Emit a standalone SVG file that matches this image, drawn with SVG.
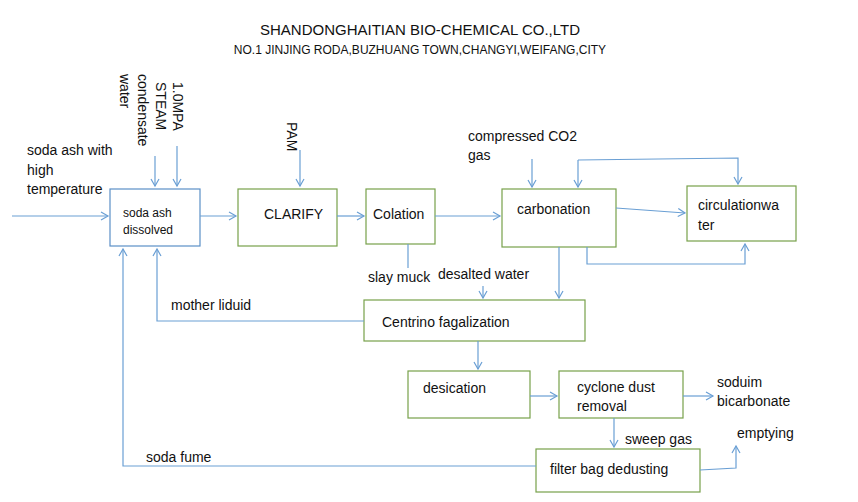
<svg xmlns="http://www.w3.org/2000/svg" width="858" height="502" viewBox="0 0 858 502">
<style>
text{font-family:"Liberation Sans",Arial,sans-serif;fill:#111}
.b{fill:#fff;stroke:#77a14a;stroke-width:1.2}
.bb{fill:#fff;stroke:#5b8fc7;stroke-width:1.2}
.c{fill:none;stroke:#6a9fd4;stroke-width:1.2}
</style>
<defs><marker id="a" markerWidth="10" markerHeight="10" refX="8" refY="5" orient="auto" markerUnits="userSpaceOnUse"><path d="M1,1 L8,5 L1,9" fill="none" stroke="#6a9fd4" stroke-width="1.2"/></marker></defs>
<rect width="858" height="502" fill="#fff"/>
<text x="420" y="35" font-size="15" text-anchor="middle">SHANDONGHAITIAN BIO-CHEMICAL CO.,LTD</text>
<text x="420" y="54" font-size="12" text-anchor="middle">NO.1 JINJING RODA,BUZHUANG TOWN,CHANGYI,WEIFANG,CITY</text>
<g font-size="14">
<text transform="translate(120,74) rotate(90)">water</text>
<text transform="translate(138,74) rotate(90)">condensate</text>
<text transform="translate(156,82) rotate(90)">STEAM</text>
<text transform="translate(173,82) rotate(90)">1.0MPA</text>
<text transform="translate(287,122) rotate(90)">PAM</text>
<text x="27" y="155">soda ash with</text>
<text x="27" y="175">high</text>
<text x="27" y="194">temperature</text>
<text x="468" y="141">compressed CO2</text>
<text x="468" y="160">gas</text>
<text x="368" y="282">slay muck</text>
<text x="438" y="279">desalted water</text>
<text x="171" y="310">mother liduid</text>
<text x="717" y="387">soduim</text>
<text x="717" y="406">bicarbonate</text>
<text x="625" y="444">sweep gas</text>
<text x="737" y="438">emptying</text>
<text x="146" y="462">soda fume</text>
</g>
<g id="n1"><rect class="bb" x="110" y="189" width="90" height="57"/><text x="123" y="217" font-size="12">soda ash</text><text x="123" y="234" font-size="12">dissolved</text></g>
<g id="n2"><rect class="b" x="238" y="189" width="99" height="57"/><text x="264" y="219" font-size="14">CLARIFY</text></g>
<g id="n3"><rect class="b" x="366" y="189" width="69" height="55"/><text x="373" y="219" font-size="14">Colation</text></g>
<g id="n4"><rect class="b" x="502" y="189" width="114" height="58"/><text x="517" y="214" font-size="14">carbonation</text></g>
<g id="n5"><rect class="b" x="687" y="186" width="109" height="55"/><text x="698" y="210" font-size="14">circulationwa</text><text x="698" y="230" font-size="14">ter</text></g>
<g id="n6"><rect class="b" x="364" y="300" width="221" height="41"/><text x="382" y="327" font-size="14">Centrino fagalization</text></g>
<g id="n7"><rect class="b" x="408" y="371" width="122" height="47"/><text x="423" y="393" font-size="14">desication</text></g>
<g id="n8"><rect class="b" x="559" y="371" width="124" height="47"/><text x="577" y="392" font-size="14">cyclone dust</text><text x="577" y="411" font-size="14">removal</text></g>
<g id="n9"><rect class="b" x="536" y="449" width="164" height="43"/><text x="550" y="474" font-size="14">filter bag dedusting</text></g>
<g id="edges">
<path class="c" d="M12,216 H108" marker-end="url(#a)"/>
<path class="c" d="M155,156 V186" marker-end="url(#a)"/>
<path class="c" d="M177,146 V186" marker-end="url(#a)"/>
<path class="c" d="M300,150 V186" marker-end="url(#a)"/>
<path class="c" d="M200,216 H236" marker-end="url(#a)"/>
<path class="c" d="M337,216 H364" marker-end="url(#a)"/>
<path class="c" d="M435,216 H500" marker-end="url(#a)"/>
<path class="c" d="M532,159 V187" marker-end="url(#a)"/>
<path class="c" d="M578,160 L738,158 V184" marker-end="url(#a)"/>
<path class="c" d="M578,160 V187" marker-end="url(#a)"/>
<path class="c" d="M616,208 L685,213" marker-end="url(#a)"/>
<path class="c" d="M587,247 V264 H745 V244" marker-end="url(#a)"/>
<path class="c" d="M408,244 V268"/>
<path class="c" d="M559,247 V298" marker-end="url(#a)"/>
<path class="c" d="M483,286 V298" marker-end="url(#a)"/>
<path class="c" d="M364,321 H157 V249" marker-end="url(#a)"/>
<path class="c" d="M478,341 V369" marker-end="url(#a)"/>
<path class="c" d="M530,396 H557" marker-end="url(#a)"/>
<path class="c" d="M683,396 H713" marker-end="url(#a)"/>
<path class="c" d="M614,418 V447" marker-end="url(#a)"/>
<path class="c" d="M700,470 L736,468 V446" marker-end="url(#a)"/>
<path class="c" d="M536,466 H123 V249" marker-end="url(#a)"/>
</g>
</svg>
